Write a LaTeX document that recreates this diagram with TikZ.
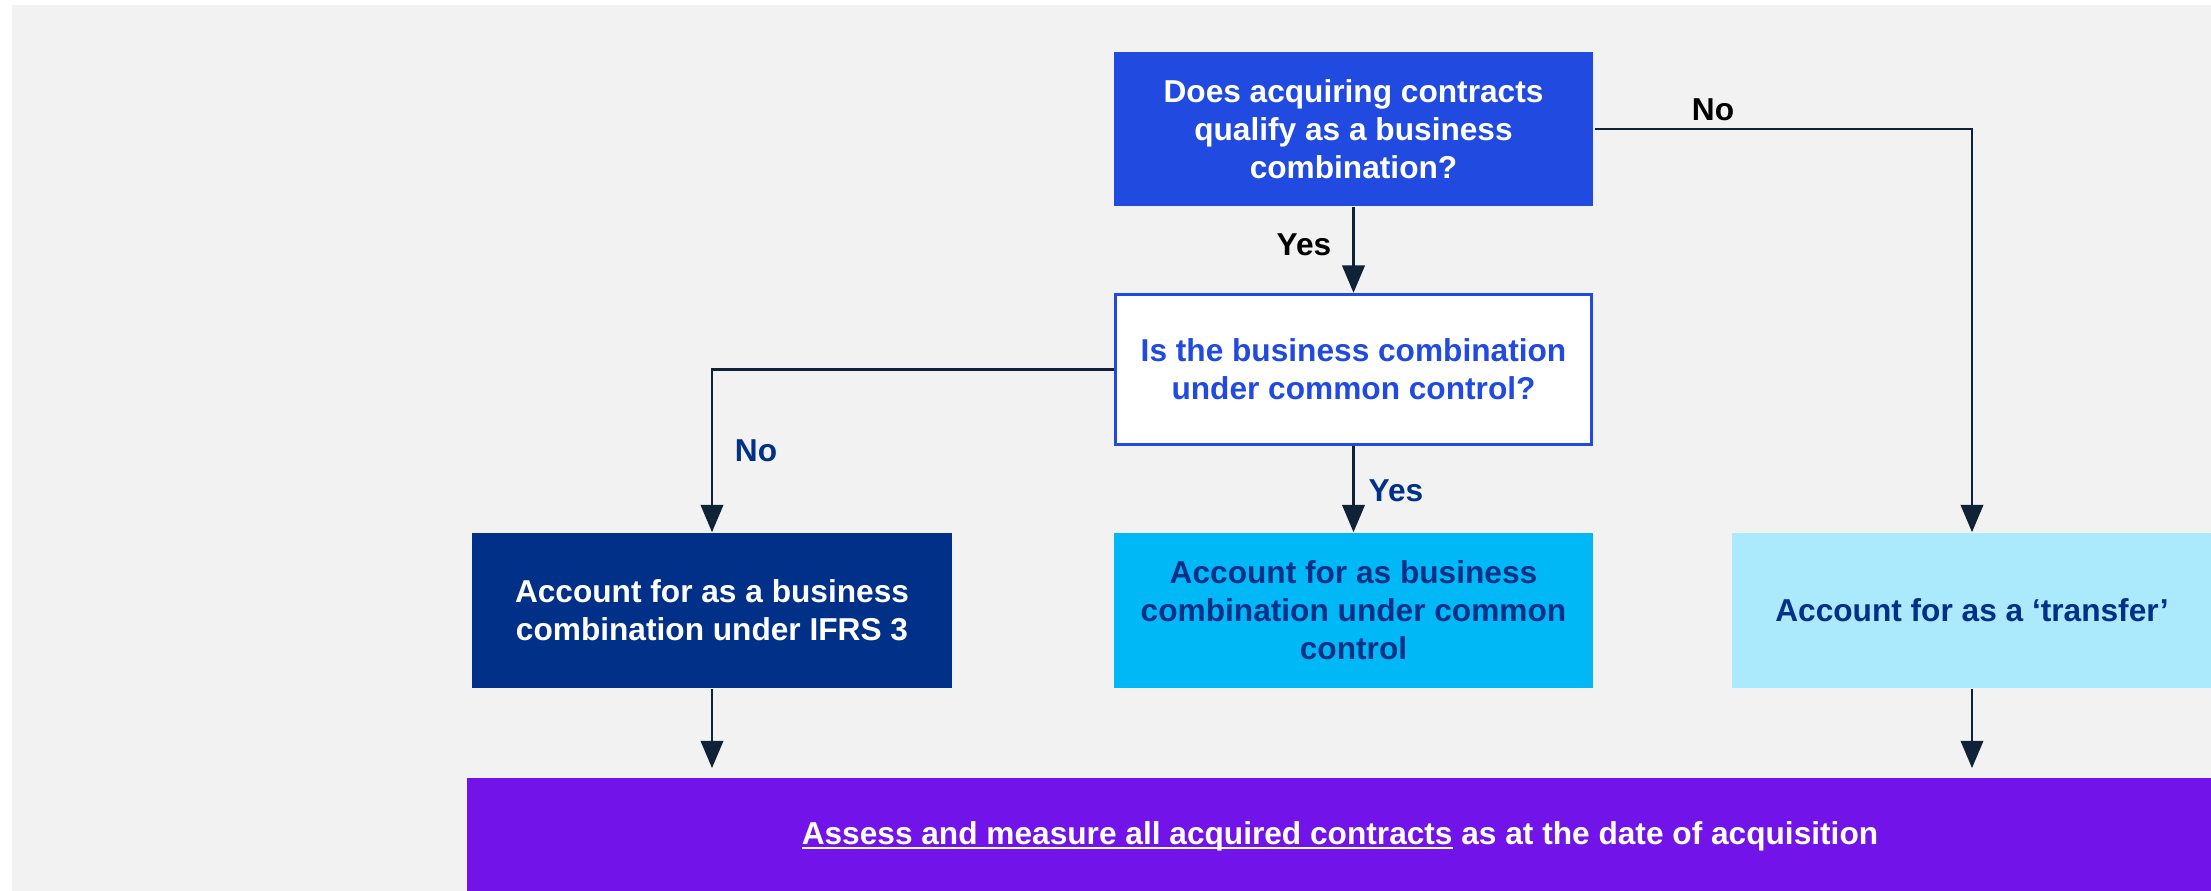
\documentclass[tikz,border=0pt]{standalone}
\usepackage{fontspec}
\setmainfont{Liberation Sans}
\usetikzlibrary{arrows,positioning}
\definecolor{bgclr}{HTML}{F2F2F2}
\definecolor{topclr}{HTML}{214BE0}
\definecolor{navyclr}{HTML}{003087}
\definecolor{cyanclr}{HTML}{00B8F5}
\definecolor{paleclr}{HTML}{ABE9FD}
\definecolor{purpclr}{HTML}{7213EA}
\definecolor{lineclr}{HTML}{0F2238}
\newcommand{\undl}[1]{\setbox0\hbox{#1}\rlap{\rule[-1.5pt]{\wd0}{0.6pt}}\box0\relax}
\tikzset{every picture/.style={line width=0.77pt}}
\tikzset{box/.style={rectangle, align=center, minimum width=4.79cm, minimum height=1.54cm,
    inner sep=0pt, font=\fontsize{9}{10.8}\selectfont\bfseries}}
\tikzset{qbox/.style={box, draw=topclr, fill=white, text=topclr, line width=1pt,
    minimum width=4.76cm, minimum height=1.50cm}}
\tikzset{lbl/.style={inner sep=0pt, font=\fontsize{9}{10.8}\selectfont\bfseries}}
\tikzset{arr/.style={draw=lineclr, -triangle 45}}

\begin{document}
\begin{tikzpicture}[x=0.01cm, y=-0.01cm]
\useasboundingbox (0,0) rectangle (2211,891);
\fill[bgclr] (12,5) rectangle (2211,891);

\node[box, fill=topclr, text=white] (acq) at (1353.5,129) {Does acquiring contracts\\qualify as a business\\combination?};
\node[qbox] (ucc) at (1353.5,369.5) {Is the business combination\\under common control?};
\node[box, fill=navyclr, text=white] (ifrs) at (712,610.5) {Account for as a business\\combination under IFRS 3};
\node[box, fill=cyanclr, text=navyclr] (bcucc) at (1353.5,610.5) {Account for as business\\combination under common\\control};
\node[box, fill=paleclr, text=navyclr] (trf) at (1972,610.5) {Account for as a ‘transfer’};
\node[box, fill=purpclr, text=white, minimum width=17.44cm, minimum height=1.16cm] (assess) at (1340,836)
    {\undl{Assess and measure all acquired contracts} as at the date of acquisition};

\coordinate (ifrsin) at (712,768);
\coordinate (trfin) at (1972,768);

\draw[arr] (acq) -- (ucc);
\draw[arr] (acq.east) -| (trf.north);
\draw[arr] (ucc.west) -| (ifrs.north);
\draw[arr] (ucc) -- (bcucc);
\draw[arr] (ifrs) -- (ifrsin);
\draw[arr] (trf) -- (trfin);

\node[lbl] (yes1) at (1304,245) {Yes};
\node[lbl] (no1) at (1713,110) {No};
\node[lbl, text=navyclr] (no2) at (756,451) {No};
\node[lbl, text=navyclr] (yes2) at (1396,491) {Yes};
\end{tikzpicture}
\end{document}
